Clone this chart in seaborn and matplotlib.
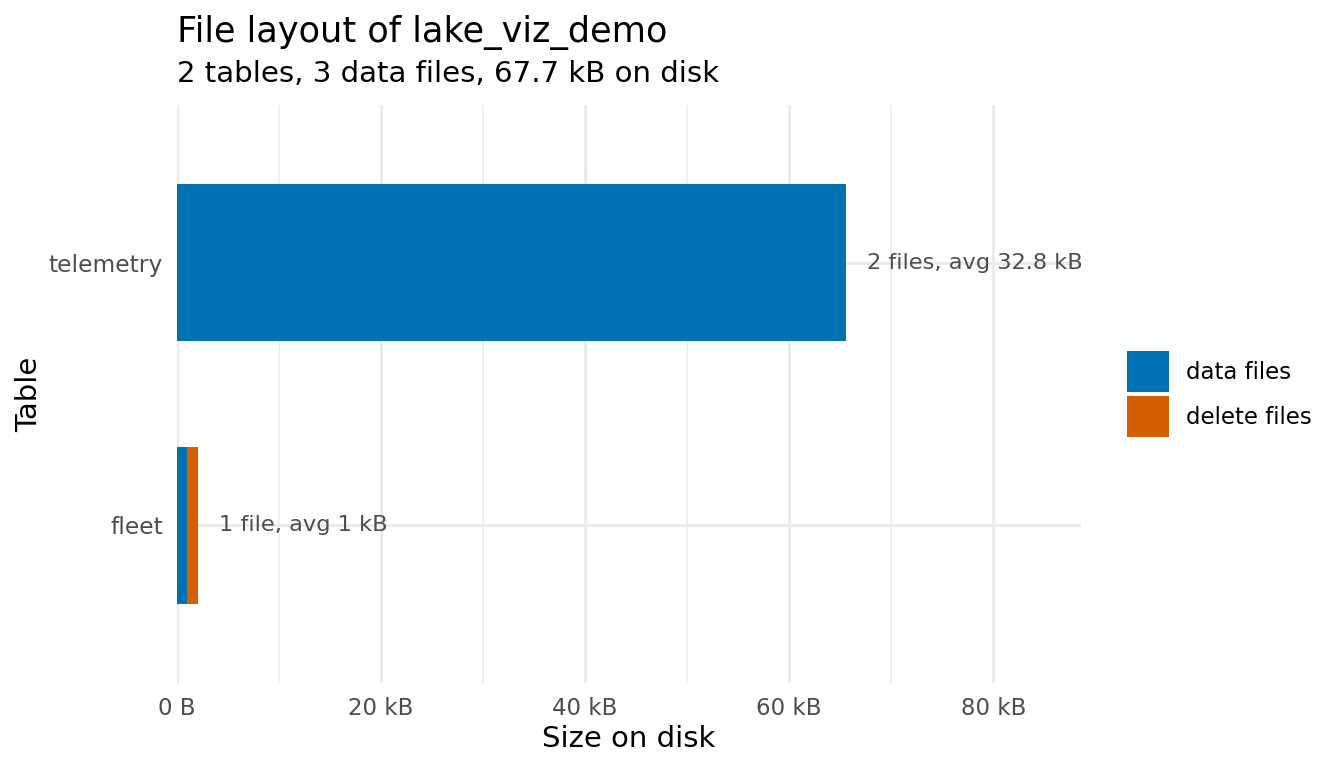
import matplotlib
matplotlib.use("Agg")
import matplotlib.pyplot as plt
from matplotlib.patches import Patch
from matplotlib.ticker import FuncFormatter, MultipleLocator
import pandas as pd
import seaborn as sns

# data (sizes in kB)
tables = ["telemetry", "fleet"]
data_kb = [65.6, 1.0]
delete_kb = [0.0, 1.1]
n_files = [2, 1]
lake_name = "lake_viz_demo"

blue = "#0072B2"
orange = "#D55E00"
grid_col = "#EBEBEB"
txt_grey = "#4D4D4D"

df = pd.DataFrame({"table": tables, "data": data_kb, "delete": delete_kb, "files": n_files})
df["total"] = df["data"] + df["delete"]
df["avg"] = df["data"] / df["files"]

sns.set_theme(style="white")
plt.rcParams["font.family"] = ["DejaVu Sans"]

fig = plt.figure(figsize=(13.44, 7.68), dpi=100)
ax = fig.add_axes([177 / 1344, 1 - 683 / 768, (1081 - 177) / 1344, (683 - 105) / 768])

# stacked bars: total (orange) underneath, data files (blue) on top
sns.barplot(data=df, x="total", y="table", order=tables, color=orange,
            width=0.6, saturation=1, ax=ax, zorder=3, linewidth=0)
sns.barplot(data=df, x="data", y="table", order=tables, color=blue,
            width=0.6, saturation=1, ax=ax, zorder=4, linewidth=0)

for i, row in df.iterrows():
    s = "file" if row["files"] == 1 else "files"
    lab = f"{row['files']} {s}, avg {round(row['avg'], 1):g} kB"
    ax.text(row["total"] + 2.0, i, lab, ha="left", va="center",
            fontsize=16.2, color=txt_grey, clip_on=True, zorder=5)

ax.set_xlim(0, 88.6)
ax.set_ylim(1.6, -0.6)
ax.xaxis.set_major_locator(MultipleLocator(20))
ax.xaxis.set_minor_locator(MultipleLocator(10))
ax.xaxis.set_major_formatter(FuncFormatter(lambda v, p: "0 B" if v == 0 else f"{v:g} kB"))
ax.grid(which="major", axis="both", color=grid_col, linewidth=2.2, zorder=0)
ax.grid(which="minor", axis="x", color=grid_col, linewidth=1.1, zorder=0)
ax.set_axisbelow(True)
for sp in ax.spines.values():
    sp.set_visible(False)
ax.tick_params(axis="x", which="both", length=0, labelsize=16.5, labelcolor=txt_grey, pad=10)
ax.tick_params(axis="y", which="both", length=0, labelsize=16.8, labelcolor=txt_grey, pad=10)

ax.set_xlabel("Size on disk", fontsize=21, color="black", labelpad=4)
ax.set_ylabel("Table", fontsize=21, color="black", labelpad=4)

total_disk = df["total"].sum()
fig.text(177 / 1344, 1 - 33 / 768, f"File layout of {lake_name}", fontsize=25.3,
         ha="left", va="center", color="black")
fig.text(177 / 1344, 1 - 74 / 768,
         f"{len(tables)} tables, {sum(n_files)} data files, {total_disk:.1f} kB on disk",
         fontsize=21.1, ha="left", va="center", color="black")

handles = [Patch(facecolor=blue, edgecolor="none", label="data files"),
           Patch(facecolor=orange, edgecolor="none", label="delete files")]
fig.legend(handles=handles, loc="center left", bbox_to_anchor=(1109 / 1344, 1 - 394 / 768),
           frameon=False, fontsize=16.5, handlelength=1.83, handleheight=2.4,
           labelspacing=0.16, handletextpad=0.73, borderpad=0.3, labelcolor="black")

fig.savefig("out.png", dpi=100)
